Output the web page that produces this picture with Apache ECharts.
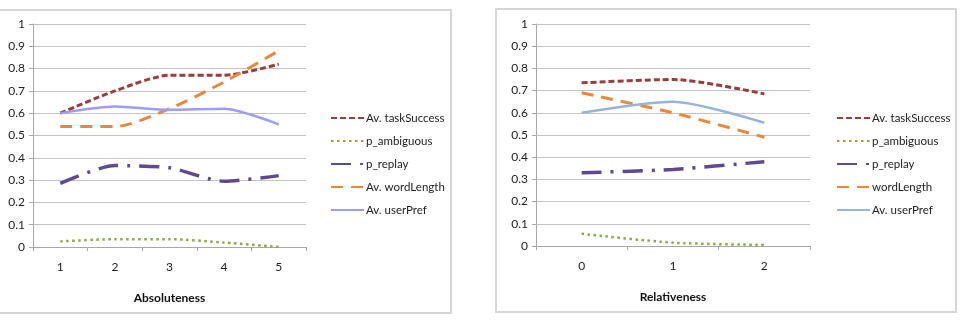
<!DOCTYPE html>
<html><head><meta charset="utf-8">
<script src="https://cdn.jsdelivr.net/npm/echarts@6/dist/echarts.min.js"></script>
<style>
html,body{margin:0;padding:0;background:#fff;width:960px;height:320px;overflow:hidden;}
.panel{position:absolute;box-sizing:border-box;border:2px solid #d6d6d6;}
.chart{position:absolute;left:0;top:0;width:960px;height:320px;}
</style></head><body>
<div class="panel" style="left:-3px;top:9px;width:455px;height:305px;"></div>
<div class="panel" style="left:495px;top:8px;width:462px;height:305px;"></div>
<div id="c1" class="chart"></div>
<div id="c2" class="chart"></div>
<script>
// Left chart: Absoluteness
const absCategories = ['1','2','3','4','5'];
const absTaskSuccess = [0.60, 0.70, 0.77, 0.77, 0.82];
const absAmbiguous = [0.025, 0.035, 0.035, 0.02, 0.0];
const absReplay = [0.285, 0.365, 0.355, 0.295, 0.32];
const absWordLength = [0.54, 0.54, 0.62, 0.74, 0.88];
const absUserPref = [0.60, 0.63, 0.615, 0.62, 0.55];
const absNames = ['Av. taskSuccess','p_ambiguous','p_replay','Av. wordLength','Av. userPref'];

// Right chart: Relativeness
const relCategories = ['0','1','2'];
const relTaskSuccess = [0.735, 0.75, 0.685];
const relAmbiguous = [0.055, 0.015, 0.005];
const relReplay = [0.33, 0.345, 0.38];
const relWordLength = [0.69, 0.60, 0.49];
const relUserPref = [0.60, 0.65, 0.555];
const relNames = ['Av. taskSuccess','p_ambiguous','p_replay','wordLength','Av. userPref'];

const FONT = 'Lato';
const styles = [
  {color:'#993d3d', width:3, type:[6,3]},
  {color:'#8ea64a', width:2.5, type:[2.5,3.5]},
  {color:'#5e4a8c', width:3.5, type:[20,9,3,9]},
  {color:'#e8883a', width:3, type:[12,8]},
  {color:'#9d9df5', width:2.5, type:'solid'}
];

function build(grid, cats, names, data, axisName, legendLeft, userPrefColor){
  const series = data.map((d,i)=>{
    const s = styles[i];
    const col = (i===4) ? userPrefColor : s.color;
    return {
      name: names[i], type:'line', data:d, smooth:0.25,
      symbol:'circle', symbolSize:0, showSymbol:false,
      itemStyle:{color:col},
      lineStyle:{color:col, width:s.width, type:s.type, cap:'butt'},
      animation:false
    };
  });
  return {
    animation:false,
    textStyle:{fontFamily:FONT},
    grid:grid,
    legend:{
      orient:'vertical', left:legendLeft, top:107, itemWidth:33, itemHeight:10, itemGap:11,
      itemStyle:{opacity:0},
      data:names, textStyle:{fontFamily:FONT, fontSize:11.5, color:'#222', padding:[0,0,0,-3]}
    },
    xAxis:{
      type:'category', data:cats, boundaryGap:true,
      name:axisName, nameLocation:'middle', nameGap:45,
      nameTextStyle:{fontFamily:FONT, fontSize:12, fontWeight:'bold', color:'#111'},
      axisLine:{lineStyle:{color:'#a8a8a8', width:1}},
      axisTick:{show:true, length:4, lineStyle:{color:'#a8a8a8'}},
      axisLabel:{fontFamily:FONT, fontSize:12, color:'#222', margin:14}
    },
    yAxis:{
      type:'value', min:0, max:1, interval:0.1,
      axisLine:{show:true, lineStyle:{color:'#a8a8a8', width:1}},
      axisTick:{show:true, length:4, lineStyle:{color:'#a8a8a8'}},
      axisLabel:{fontFamily:FONT, fontSize:12, color:'#222', margin:8,
        formatter:v=>String(Math.round(v*10)/10)},
      splitLine:{lineStyle:{color:'#c4c4c4', width:1}}
    },
    series:series
  };
}

const c1 = echarts.init(document.getElementById('c1'), null, {renderer:'canvas'});
c1.setOption(build({left:33, top:24, width:273, height:223}, absCategories, absNames,
  [absTaskSuccess, absAmbiguous, absReplay, absWordLength, absUserPref], 'Absoluteness', 325, '#9d9df5'));
const c2 = echarts.init(document.getElementById('c2'), null, {renderer:'canvas'});
c2.setOption(build({left:536, top:24, width:274, height:222}, relCategories, relNames,
  [relTaskSuccess, relAmbiguous, relReplay, relWordLength, relUserPref], 'Relativeness', 831, '#98b4d6'));
</script>
</body></html>
